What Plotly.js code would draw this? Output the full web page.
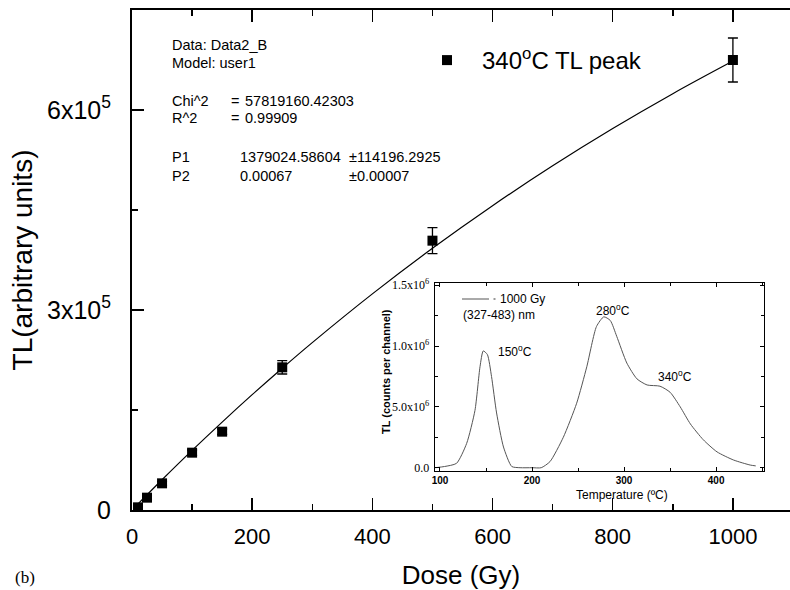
<!DOCTYPE html>
<html>
<head>
<meta charset="utf-8">
<script src="https://cdn.plot.ly/plotly-3.0.1.min.js"></script>
<style>html,body{margin:0;padding:0;background:#fff;}#chart{width:790px;height:590px;}</style>
</head>
<body>
<div id="chart"></div>
<script>
// ---- main plot data: 340°C TL peak vs dose ----
var dose = [10, 25, 50, 100, 150, 250, 500, 1000];
var tlPeak = [4000, 18500, 40000, 86000, 117500, 214000, 404000, 675000];
var tlErr = [2000, 3000, 3000, 4000, 4000, 10000, 19500, 33000];

// fitted curve
var fitDose = [10, 50, 100, 150, 200, 250, 300, 400, 500, 600, 700, 800, 900, 1000];
var fitTL = [9200, 45400, 89400, 131900, 173000, 212700, 251100, 324200, 392600, 456500, 516300, 572200, 624500, 673400];

// ---- inset glow curve (1000 Gy, 327-483 nm) ----
var temp = [95, 105, 118, 129, 138, 143.5, 147, 151.5, 156, 161.5, 169, 178, 187, 200, 210, 219.5, 234, 248.5, 259.5, 270, 278, 285, 292, 303, 314, 325, 339, 350, 361, 372, 386, 401, 419, 437, 443];
var counts = [0.0, 0.01, 0.036, 0.20, 0.47, 0.83, 0.96, 0.93, 0.75, 0.45, 0.17, 0.01, 0.0, 0.0, 0.0, 0.05, 0.25, 0.53, 0.83, 1.16, 1.24, 1.21, 1.08, 0.86, 0.73, 0.68, 0.67, 0.62, 0.50, 0.36, 0.23, 0.13, 0.063, 0.022, 0.015].map(function(v){return v*1e6;});

// tick labels
var mainYTickVals = [0, 300000, 600000];
var mainYTickText = ["0", "3x10<sup>5</sup>", "6x10<sup>5</sup>"];
var insetYTickVals = [0, 500000, 1000000, 1500000];
var insetYTickText = ["0.0", "5.0x10<sup>6</sup>", "1.0x10<sup>6</sup>", "1.5x10<sup>6</sup>"];
var insetXTickVals = [100, 200, 300, 400];

// fit report text
var fitInfo = [
  ["Data: Data2_B"], ["Model: user1"],
  ["Chi^2", "=", "57819160.42303"], ["R^2", "=", "0.99909"],
  ["P1", "1379024.58604", "±114196.2925"], ["P2", "0.00067", "±0.00007"]
];

// ---- layout helpers (pixel -> paper) ----
var L = 132, T = 10, W = 658, H = 500;
function PX(px){ return (px - L) / W; }
function PY(py){ return (T + H - py) / H; }

var SANS = "Liberation Sans, Arial, sans-serif";
var SERIF = "Liberation Serif, Times New Roman, serif";

var traces = [
  {
    x: fitDose, y: fitTL, type: 'scatter', mode: 'lines',
    line: {color: '#000', width: 1.2, shape: 'spline'},
    showlegend: false, hoverinfo: 'skip', xaxis: 'x', yaxis: 'y'
  },
  {
    x: dose, y: tlPeak, type: 'scatter', mode: 'markers',
    name: '340<sup>o</sup>C TL peak',
    marker: {symbol: 'square', size: 10, color: '#000'},
    error_y: {type: 'data', array: tlErr, visible: true, color: '#000', thickness: 1.3, width: 5},
    xaxis: 'x', yaxis: 'y'
  },
  {
    x: temp, y: counts, type: 'scatter', mode: 'lines',
    line: {color: '#555', width: 1, shape: 'spline', smoothing: 0.6},
    showlegend: false, xaxis: 'x2', yaxis: 'y2'
  }
];

var ann = [];
var rowsY = [45, 63, 101, 118, 157, 176];
var colX = [[170], [170], [170, 229, 243], [170, 229, 243], [170, 238, 347], [170, 238, 347]];
fitInfo.forEach(function(row, i){
  row.forEach(function(txt, j){
    ann.push({xref: 'paper', yref: 'paper', x: PX(colX[i][j]), y: PY(rowsY[i]), xanchor: 'left', yanchor: 'middle',
      text: txt, showarrow: false, font: {family: SANS, size: 14.5, color: '#000'}});
  });
});
// inset peak labels
var peakLabels = [["150<sup>o</sup>C", 515, 351], ["280<sup>o</sup>C", 613, 310], ["340<sup>o</sup>C", 675, 376]];
peakLabels.forEach(function(p){
  ann.push({xref: 'paper', yref: 'paper', x: PX(p[1]), y: PY(p[2]), xanchor: 'center', yanchor: 'middle',
    text: p[0], showarrow: false, font: {family: SANS, size: 12, color: '#000'}});
});
// inset legend text
ann.push({xref: 'paper', yref: 'paper', x: PX(498), y: PY(299), xanchor: 'left', yanchor: 'middle',
  text: '1000 Gy', showarrow: false, font: {family: SANS, size: 12, color: '#000'}});
ann.push({xref: 'paper', yref: 'paper', x: PX(461), y: PY(315), xanchor: 'left', yanchor: 'middle',
  text: '(327-483) nm', showarrow: false, font: {family: SANS, size: 12, color: '#000'}});
// inset axis titles
ann.push({xref: 'paper', yref: 'paper', x: PX(622), y: PY(495), xanchor: 'center', yanchor: 'middle',
  text: 'Temperature (ºC)', showarrow: false, font: {family: SANS, size: 12, color: '#000'}});
ann.push({xref: 'paper', yref: 'paper', x: PX(386), y: PY(372), xanchor: 'center', yanchor: 'middle', textangle: -90,
  text: 'TL (counts per channel)', showarrow: false, font: {family: SANS, size: 11, color: '#000', weight: 'bold'}});
// panel label
ann.push({xref: 'paper', yref: 'paper', x: PX(25), y: PY(577), xanchor: 'center', yanchor: 'middle',
  text: '(b)', showarrow: false, font: {family: SERIF, size: 17, color: '#000'}});

var shapes = [
  {type: 'line', xref: 'paper', yref: 'paper', x0: PX(462), x1: PX(489), y0: PY(299), y1: PY(299), line: {color: '#555', width: 1}},
  {type: 'line', xref: 'paper', yref: 'paper', x0: PX(493.5), x1: PX(495.5), y0: PY(299), y1: PY(299), line: {color: '#555', width: 1.2}}
];

var layout = {
  width: 790, height: 590,
  margin: {l: L, r: 790 - L - W, t: T, b: 590 - T - H, pad: 0},
  paper_bgcolor: '#fff', plot_bgcolor: '#fff',
  font: {family: SANS, color: '#000'},
  showlegend: true,
  legend: {x: PX(412), y: PY(38), xanchor: 'left', yanchor: 'top', bgcolor: 'rgba(0,0,0,0)',
    font: {family: SANS, size: 24, color: '#000'}, itemwidth: 60},
  xaxis: {
    domain: [0, 1], range: [0, 1095], anchor: 'y',
    tickmode: 'linear', tick0: 0, dtick: 200,
    ticks: 'inside', ticklen: 12, tickwidth: 1.5, tickcolor: '#000',
    minor: {tickmode: 'linear', tick0: 0, dtick: 100, ticks: 'inside', ticklen: 6, tickwidth: 1.5, tickcolor: '#000'},
    showline: true, linewidth: 2, linecolor: '#000', mirror: 'allticks',
    showgrid: false, zeroline: false,
    tickfont: {family: SANS, size: 22, color: '#000'}, ticklabelstandoff: 6,
    title: {text: 'Dose (Gy)', font: {family: SANS, size: 26, color: '#000'}, standoff: 20}
  },
  yaxis: {
    domain: [0, 1], range: [0, 750000], anchor: 'x',
    tickmode: 'array', tickvals: mainYTickVals, ticktext: mainYTickText,
    ticks: 'inside', ticklen: 12, tickwidth: 1.5, tickcolor: '#000',
    minor: {tickmode: 'linear', tick0: 0, dtick: 150000, ticks: 'inside', ticklen: 6, tickwidth: 1.5, tickcolor: '#000'},
    showline: true, linewidth: 2, linecolor: '#000', mirror: false,
    showgrid: false, zeroline: false,
    tickfont: {family: SANS, size: 25, color: '#000'}, ticklabelstandoff: 14,
    title: {text: 'TL(arbitrary units)', font: {family: SANS, size: 28, color: '#000'}, standoff: 6}
  },
  xaxis2: {
    domain: [PX(435), PX(764)], range: [94.6, 452], anchor: 'y2',
    tickmode: 'array', tickvals: insetXTickVals,
    ticks: 'inside', ticklen: 4, tickwidth: 1, tickcolor: '#000',
    minor: {tickmode: 'linear', tick0: 0, dtick: 50, ticks: 'inside', ticklen: 3, tickwidth: 1, tickcolor: '#000'},
    showline: true, linewidth: 1.3, linecolor: '#000', mirror: 'allticks',
    showgrid: false, zeroline: false,
    tickfont: {family: SANS, size: 10, color: '#000', weight: 'bold'}, ticklabelstandoff: 0
  },
  yaxis2: {
    domain: [PY(471), PY(283)], range: [-27000, 1518000], anchor: 'x2',
    tickmode: 'array', tickvals: insetYTickVals, ticktext: insetYTickText,
    ticks: 'inside', ticklen: 4, tickwidth: 1, tickcolor: '#000',
    minor: {tickmode: 'linear', tick0: 0, dtick: 250000, ticks: 'inside', ticklen: 3, tickwidth: 1, tickcolor: '#000'},
    showline: true, linewidth: 1.3, linecolor: '#000', mirror: 'allticks',
    showgrid: false, zeroline: false,
    tickfont: {family: SERIF, size: 12, color: '#000'}, ticklabelstandoff: 2
  },
  annotations: ann,
  shapes: shapes
};

Plotly.newPlot('chart', traces, layout, {displayModeBar: false, staticPlot: true});
</script>
</body>
</html>
